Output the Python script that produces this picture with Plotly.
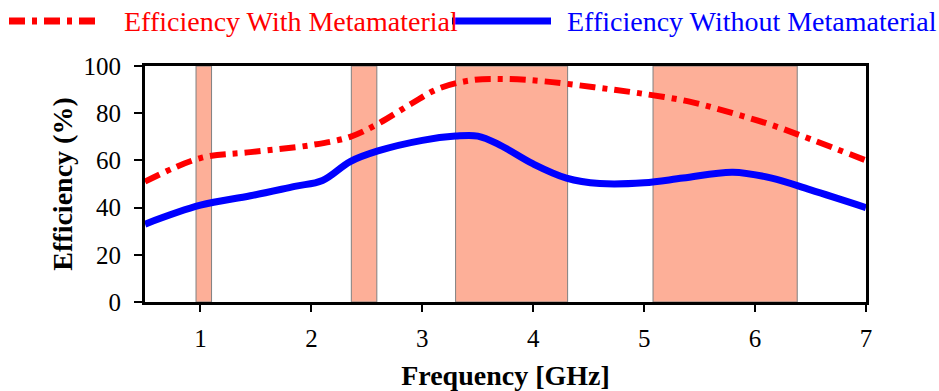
import plotly.graph_objects as go

# Measured efficiency curves (GHz, %)
freq_with = [0.5, 1.0, 1.45, 2.0, 2.35, 2.6, 2.9, 3.15, 3.45, 3.75, 4.1, 4.55, 4.95, 5.4, 5.8, 6.15, 6.5, 7.0]
eff_with = [51, 61, 63.5, 66.5, 70, 75.5, 84, 90.5, 94, 94.5, 93.5, 91, 88.5, 85, 80, 75, 69, 60]

freq_without = [0.5, 1.0, 1.45, 1.85, 2.1, 2.35, 2.6, 3.0, 3.3, 3.5, 3.7, 4.0, 4.3, 4.6, 5.0, 5.35, 5.8, 6.15, 6.5, 7.0]
eff_without = [33, 41, 45, 49, 51.5, 59.5, 64, 68.5, 70.3, 70.3, 66.5, 58.5, 52.5, 50.2, 50.5, 52.5, 55, 52.5, 47.5, 40]

# Operating bands highlighted on the frequency axis (GHz)
band_start = [0.96, 2.36, 3.30, 5.08]
band_end = [1.10, 2.59, 4.31, 6.38]

x_ticks = [1, 2, 3, 4, 5, 6, 7]
y_ticks = [0, 20, 40, 60, 80, 100]

RED = "#FF0000"
BLUE = "#0000FF"
SERIF = "Liberation Serif, Times New Roman, serif"

W, H = 939, 391
ML, MR, MT, MB = 145, 73, 66, 89
PW, PH = W - ML - MR, H - MT - MB


def px_x(p):
    return (p - ML) / PW


def px_y(p):
    return (H - MB - p) / PH


fig = go.Figure()

fig.add_trace(go.Scatter(
    x=freq_with, y=eff_with, mode="lines",
    line=dict(color=RED, width=6, dash="16px,7px,5px,7px", shape="spline", smoothing=1),
    showlegend=False,
))
fig.add_trace(go.Scatter(
    x=freq_without, y=eff_without, mode="lines",
    line=dict(color=BLUE, width=7, shape="spline", smoothing=1),
    showlegend=False,
))

shapes = []
for a, b in zip(band_start, band_end):
    shapes.append(dict(
        type="rect", xref="x", yref="y", x0=a, x1=b, y0=0, y1=100,
        fillcolor="#FDAF98", line=dict(color="#808080", width=1), layer="below",
    ))

# Legend drawn above the plot area
ly = px_y(21)
shapes.append(dict(type="line", xref="paper", yref="paper", x0=px_x(9), x1=px_x(99), y0=ly, y1=ly,
                   line=dict(color=RED, width=7, dash="16px,7px,5px,7px")))
shapes.append(dict(type="line", xref="paper", yref="paper", x0=px_x(452), x1=px_x(551), y0=ly, y1=ly,
                   line=dict(color=BLUE, width=7)))

annotations = [
    dict(text="Efficiency With Metamaterial", xref="paper", yref="paper", x=px_x(122), y=ly,
         xanchor="left", yanchor="middle", showarrow=False,
         font=dict(family=SERIF, size=28, color=RED)),
    dict(text="Efficiency Without Metamaterial", xref="paper", yref="paper", x=px_x(565), y=ly,
         xanchor="left", yanchor="middle", showarrow=False,
         font=dict(family=SERIF, size=28, color=BLUE)),
]

fig.update_layout(
    width=W, height=H,
    margin=dict(l=ML, r=MR, t=MT, b=MB),
    paper_bgcolor="white", plot_bgcolor="white",
    shapes=shapes, annotations=annotations,
    font=dict(family=SERIF, size=25, color="black"),
    xaxis=dict(
        range=[0.5, 7], tickvals=x_ticks, ticks="outside", ticklen=7, tickwidth=1.5,
        tickcolor="black", showline=True, linecolor="black", linewidth=3, mirror=True,
        showgrid=False, zeroline=False, ticklabelstandoff=5, automargin=False,
        tickfont=dict(family=SERIF, size=25),
        title=dict(text="<b>Frequency [GHz]</b>", font=dict(family=SERIF, size=28), standoff=19),
    ),
    yaxis=dict(
        range=[0, 100], tickvals=y_ticks, ticks="outside", ticklen=8, tickwidth=1.5,
        tickcolor="black", showline=True, linecolor="black", linewidth=3, mirror=True,
        showgrid=False, zeroline=False, ticklabelstandoff=8, automargin=False,
        tickfont=dict(family=SERIF, size=25),
        title=dict(text="<b>Efficiency (%)</b>", font=dict(family=SERIF, size=28), standoff=3),
    ),
)

fig.write_html("out.html")
